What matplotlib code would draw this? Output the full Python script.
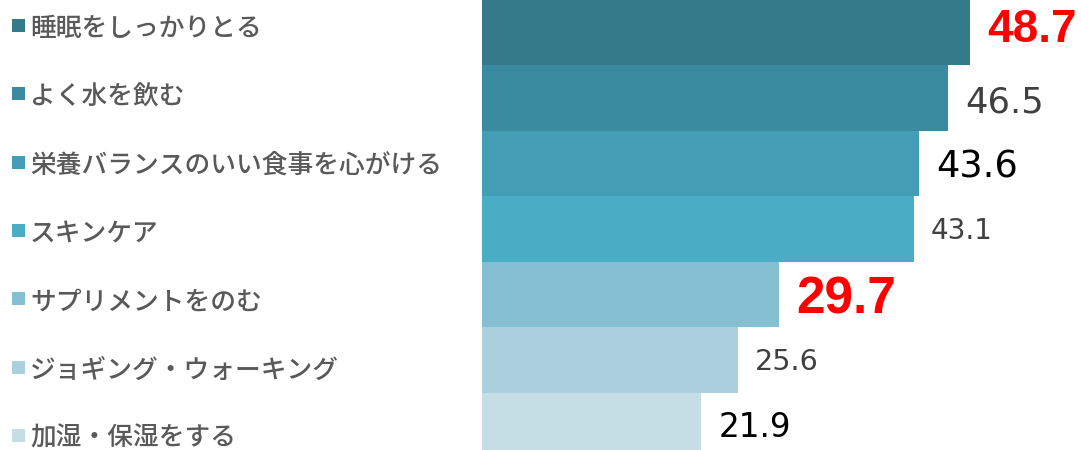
import matplotlib
matplotlib.use('Agg')

import matplotlib.pyplot as plt
from matplotlib.patches import Rectangle

# data
categories = ['睡眠をしっかりとる', 'よく水を飲む', '栄養バランスのいい食事を心がける', 'スキンケア',
              'サプリメントをのむ', 'ジョギング・ウォーキング', '加湿・保湿をする']
values = [48.7, 46.5, 43.6, 43.1, 29.7, 25.6, 21.9]
value_labels = ['48.7', '46.5', '43.6', '43.1', '29.7', '25.6', '21.9']

bar_colors = ['#347a8a', '#3b8ba0', '#439db4', '#4aacc5', '#86bfd1', '#aacfdd', '#c5dde5']

# per-label style: size(pt), color, weight, family, digit height(px), y shift(px)
label_styles = [
    (33, '#ff0000', 'bold', 'Liberation Sans', 34, -8),
    (25.5, '#404040', 'normal', 'DejaVu Sans', 26, 1),
    (26.5, '#000000', 'normal', 'DejaVu Sans', 27, 0),
    (20, '#404040', 'normal', 'DejaVu Sans', 20, 0),
    (37, '#ff0000', 'bold', 'Liberation Sans', 38, 0),
    (20.5, '#404040', 'normal', 'DejaVu Sans', 21, 0),
    (23.5, '#000000', 'normal', 'DejaVu Sans', 24, 0),
]

W, H = 1081, 450
bar_left = 481.5
px_per_unit = 10.03
row_px = 65.45

fig = plt.figure(figsize=(W / 100, H / 100), dpi=100)
ax = fig.add_axes([bar_left / W, 0, 1 - bar_left / W, 1])
ax.axis('off')

y = list(range(len(values)))
ax.barh(y, values, height=1.0, color=bar_colors, linewidth=0)
ax.set_xlim(0, (W - bar_left) / px_per_unit)
ax.set_ylim(H / row_px - 0.5, -0.5)

# value labels, 17px to the right of the bar end
for i, (v, txt, st) in enumerate(zip(values, value_labels, label_styles)):
    size, color, weight, fam, digit_h, shift = st
    dy = -(digit_h / 2 + shift) * 0.72
    ax.annotate(txt, xy=(v, i), xytext=(17 * 0.72, dy), textcoords='offset points',
                ha='left', va='baseline', fontsize=size, color=color,
                fontweight=weight, family=fam)

# category labels with colored squares on the left
for i, (cat, col) in enumerate(zip(categories, bar_colors)):
    yc = 25.5 + i * 68.3
    fy = 1 - yc / H
    fig.patches.append(Rectangle((12 / W, fy - 6.5 / H), 13 / W, 13 / H,
                                 transform=fig.transFigure, color=col, linewidth=0))
    fig.text(30 / W, 1 - (yc + 3) / H, cat, ha='left', va='center', fontsize=18.5,
             color='#595959', fontweight='medium',
             family=['Noto Sans CJK JP', 'DejaVu Sans'])

fig.savefig('out.png', dpi=100)
